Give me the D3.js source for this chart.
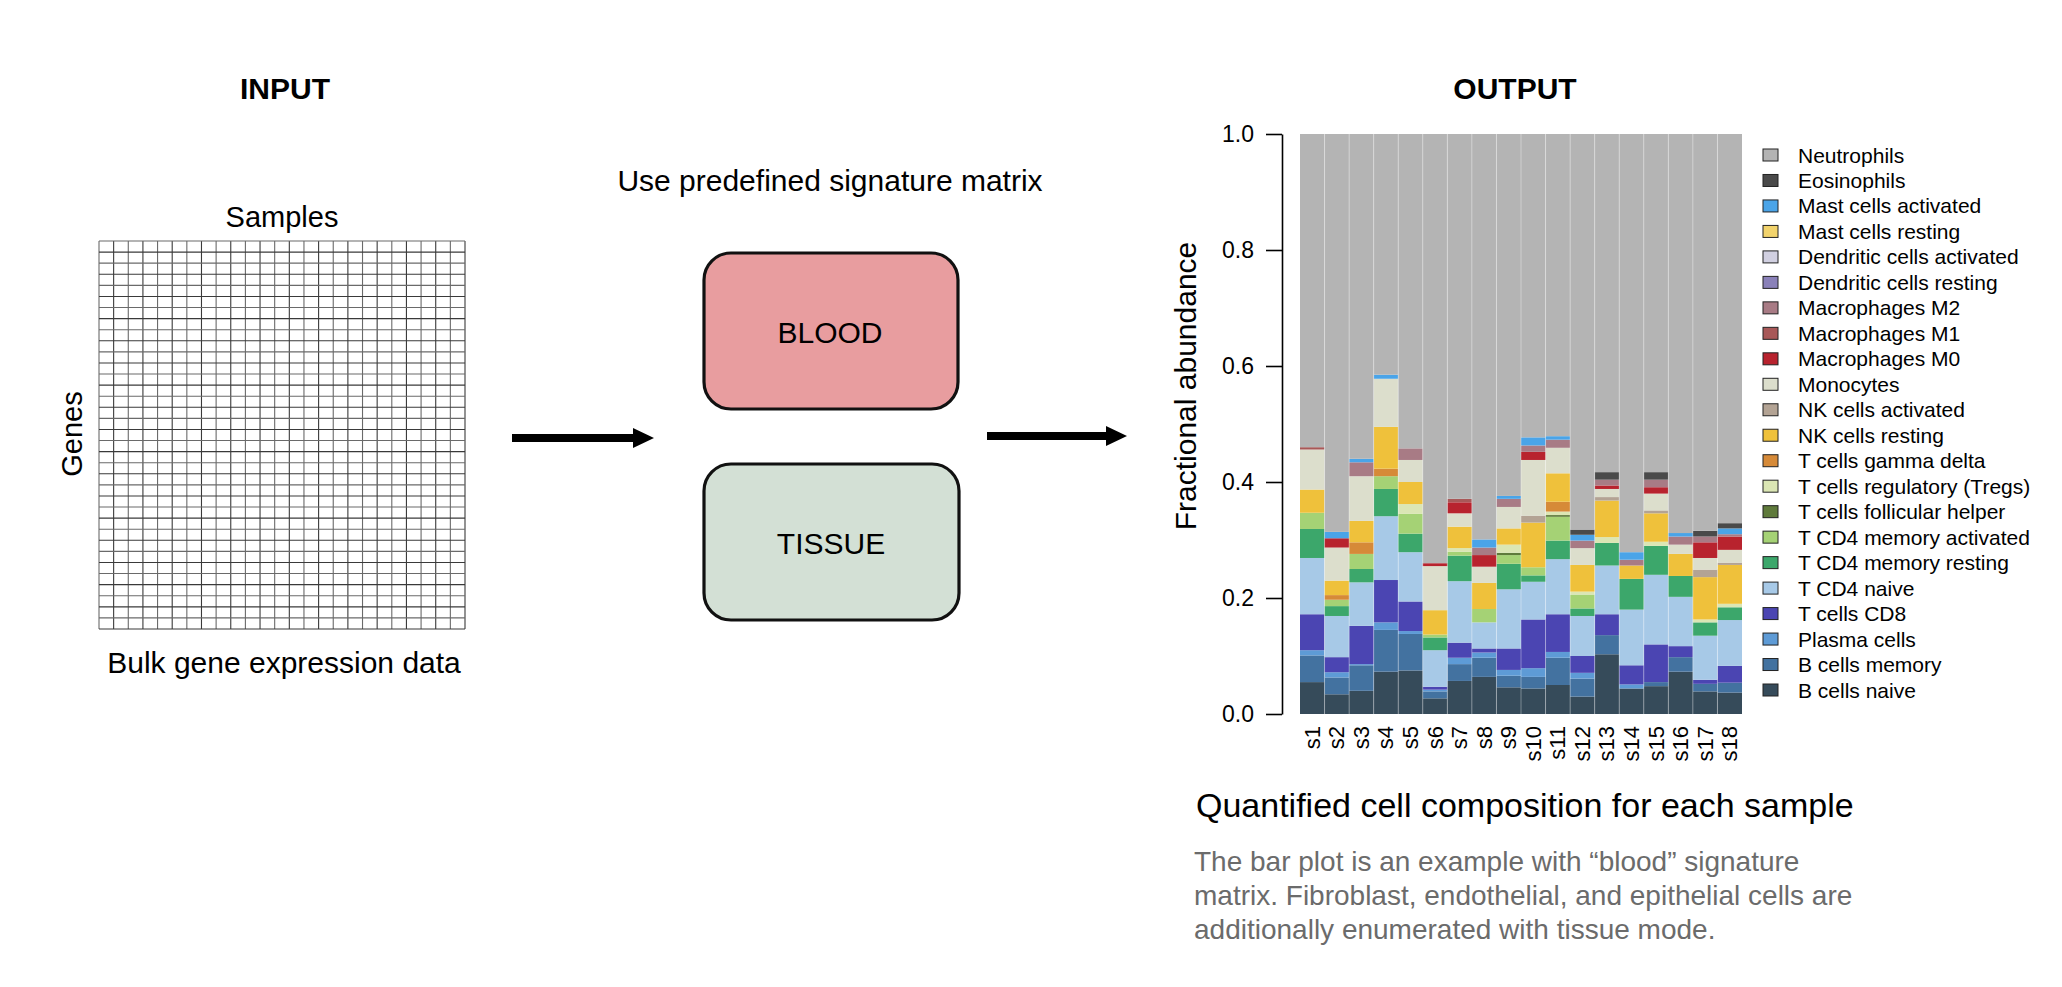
<!DOCTYPE html>
<html>
<head>
<meta charset="utf-8">
<script src="https://cdn.jsdelivr.net/npm/d3@7"></script>
<style>
  html, body { margin: 0; padding: 0; background: #ffffff; }
  svg { display: block; }
  text { font-family: "Liberation Sans", Arial, Helvetica, sans-serif; }
</style>
</head>
<body>
<svg id="fig" width="2062" height="987"></svg>
<script>
// ---------------- DATA ----------------
const samples = ["s1","s2","s3","s4","s5","s6","s7","s8","s9","s10","s11","s12","s13","s14","s15","s16","s17","s18"];

// stacking order: bottom -> top
const cellTypes = [
  "B cells naive","B cells memory","Plasma cells","T cells CD8","T CD4 naive",
  "T CD4 memory resting","T CD4 memory activated","T cells follicular helper",
  "T cells regulatory (Tregs)","T cells gamma delta","NK cells resting","NK cells activated",
  "Monocytes","Macrophages M0","Macrophages M1","Macrophages M2","Dendritic cells resting",
  "Dendritic cells activated","Mast cells resting","Mast cells activated","Eosinophils","Neutrophils"
];
const cellColors = [
  "#364b5a","#4372a0","#5e9bd6","#4b45b2","#a7c9e7",
  "#3ca76b","#a5d275","#5f7a3b",
  "#dbe6b4","#d68a38","#efc13b","#b3a394",
  "#dcdecc","#b8232e","#a85858","#a87b85","#8a81b9",
  "#d1d0e1","#f2d36c","#4aa4e8","#4a4a4a","#b4b4b4"
];

const bNaive      = [0.055,0.034,0.040,0.073,0.075,0.027,0.057,0.064,0.046,0.044,0.050,0.030,0.103,0.044,0.048,0.073,0.039,0.037];
const bMemory     = [0.046,0.029,0.044,0.072,0.063,0.012,0.029,0.033,0.020,0.020,0.047,0.031,0.033,0.000,0.007,0.025,0.013,0.017];
const plasma      = [0.009,0.009,0.002,0.013,0.005,0.003,0.011,0.009,0.010,0.015,0.010,0.010,0.000,0.007,0.000,0.000,0.000,0.000];
const tCD8        = [0.062,0.026,0.066,0.073,0.051,0.005,0.026,0.007,0.037,0.084,0.065,0.029,0.036,0.033,0.065,0.019,0.007,0.029];
const cd4Naive    = [0.097,0.071,0.075,0.110,0.085,0.063,0.106,0.045,0.102,0.065,0.095,0.069,0.084,0.096,0.120,0.085,0.076,0.079];
const cd4MemRest  = [0.050,0.017,0.023,0.047,0.032,0.022,0.044,0.000,0.044,0.011,0.032,0.013,0.039,0.053,0.050,0.036,0.023,0.022];
const cd4MemAct   = [0.028,0.011,0.026,0.022,0.034,0.005,0.007,0.023,0.015,0.014,0.041,0.024,0.000,0.000,0.000,0.000,0.000,0.000];
const tfh         = [0,0,0,0,0,0,0,0,0.004,0,0.003,0,0,0,0,0,0,0];
const tregs       = [0,0,0,0,0.017,0,0.006,0,0.014,0,0.006,0.005,0.010,0,0.007,0,0.005,0.006];
const gammaDelta  = [0,0.008,0.020,0.013,0,0,0,0,0,0,0.017,0,0,0,0,0,0,0];
const nkRest      = [0.040,0.025,0.037,0.072,0.038,0.042,0.037,0.045,0.028,0.077,0.049,0.046,0.063,0.023,0.049,0.038,0.073,0.067];
const nkAct       = [0,0,0,0,0,0,0,0,0,0.012,0,0,0.006,0,0.005,0,0.013,0.004];
const monocytes   = [0.069,0.057,0.077,0.083,0.038,0.076,0.023,0.028,0.037,0.096,0.044,0.029,0.014,0,0.029,0.016,0.020,0.022];
const macM0       = [0,0.016,0,0,0,0.005,0.019,0.020,0,0.014,0,0,0.006,0,0.011,0,0.027,0.023];
const macM1       = [0.004,0,0,0,0,0,0.006,0,0,0,0,0,0,0,0,0,0,0];
const macM2       = [0,0,0.024,0,0.020,0,0,0.013,0.014,0.011,0.014,0.013,0.010,0.010,0.013,0.014,0.010,0.004];
const dcRest      = [0,0,0,0,0,0,0,0,0,0,0,0,0,0,0,0,0,0];
const dcAct       = [0,0,0,0,0,0,0,0,0,0,0,0,0,0,0,0,0,0];
const mastRest    = [0,0,0,0,0,0,0,0,0,0,0,0,0,0,0,0,0,0];
const mastAct     = [0,0.011,0.006,0.007,0,0,0,0.014,0.005,0.014,0.006,0.010,0,0.013,0,0.006,0,0.010];
const eosinophils = [0,0,0,0,0,0,0,0,0,0,0,0.009,0.013,0,0.013,0,0.010,0.009];
const neutrophils = [0.540,0.686,0.560,0.415,0.542,0.740,0.629,0.699,0.624,0.523,0.521,0.682,0.583,0.721,0.583,0.688,0.684,0.671];

const seriesValues = [bNaive,bMemory,plasma,tCD8,cd4Naive,cd4MemRest,cd4MemAct,tfh,tregs,gammaDelta,
  nkRest,nkAct,monocytes,macM0,macM1,macM2,dcRest,dcAct,mastRest,mastAct,eosinophils,neutrophils];

const yTicks = [0,0.2,0.4,0.6,0.8,1.0];
const gridCols = 25, gridRows = 35;

// ---------------- DRAW ----------------
const svg = d3.select("#fig");
svg.append("rect").attr("width",2062).attr("height",987).attr("fill","#fff");
const FONT = "'Liberation Sans', Arial, Helvetica, sans-serif";

// ---- Titles
svg.append("text").attr("x",285).attr("y",99).attr("text-anchor","middle")
  .attr("font-size",30).attr("font-weight","bold").text("INPUT");
svg.append("text").attr("x",1515).attr("y",99).attr("text-anchor","middle")
  .attr("font-size",30).attr("font-weight","bold").text("OUTPUT");

// ---- Input grid
const gx = d3.scaleLinear([0,gridCols],[99,465]);
const gy = d3.scaleLinear([0,gridRows],[241,629]);
const grid = svg.append("g");
grid.selectAll("line.v").data(d3.range(gridCols+1)).join("line")
  .attr("x1",d=>gx(d)).attr("x2",d=>gx(d)).attr("y1",gy(0)).attr("y2",gy(gridRows))
  .attr("stroke",(d,i)=> i%2 ? "#3a3a3a" : "#6a6a6a").attr("stroke-width",1.1);
grid.selectAll("line.h").data(d3.range(gridRows+1)).join("line")
  .attr("y1",d=>gy(d)).attr("y2",d=>gy(d)).attr("x1",gx(0)).attr("x2",gx(gridCols))
  .attr("stroke",(d,i)=> i%2 ? "#3a3a3a" : "#6a6a6a").attr("stroke-width",1.1);

svg.append("text").attr("x",282).attr("y",227).attr("text-anchor","middle").attr("font-size",29).text("Samples");
svg.append("text").attr("transform","translate(82,434) rotate(-90)").attr("text-anchor","middle").attr("font-size",29).text("Genes");
svg.append("text").attr("x",284).attr("y",673).attr("text-anchor","middle").attr("font-size",30).text("Bulk gene expression data");

// ---- Arrows
function arrow(x0, x1, yc){
  const t = 4, hw = 10, hl = 21;
  svg.append("path")
    .attr("d", `M${x0},${yc-t} L${x1-hl},${yc-t} L${x1-hl},${yc-hw} L${x1},${yc} L${x1-hl},${yc+hw} L${x1-hl},${yc+t} L${x0},${yc+t} Z`)
    .attr("fill","#000");
}
arrow(512, 654, 438);
arrow(987, 1127, 436);

// ---- Signature boxes
svg.append("text").attr("x",830).attr("y",191).attr("text-anchor","middle").attr("font-size",30).text("Use predefined signature matrix");
svg.append("rect").attr("x",704).attr("y",253).attr("width",254).attr("height",156).attr("rx",27)
  .attr("fill","#e89d9f").attr("stroke","#111").attr("stroke-width",3.2);
svg.append("rect").attr("x",704).attr("y",464).attr("width",255).attr("height",156).attr("rx",27)
  .attr("fill","#d3e0d5").attr("stroke","#111").attr("stroke-width",3.2);
svg.append("text").attr("x",830).attr("y",332).attr("text-anchor","middle").attr("dominant-baseline","central").attr("font-size",30).text("BLOOD");
svg.append("text").attr("x",831).attr("y",543).attr("text-anchor","middle").attr("dominant-baseline","central").attr("font-size",30).text("TISSUE");

// ---- Stacked bar chart
const x = d3.scaleBand().domain(samples).range([1300,1742]).padding(0);
const y = d3.scaleLinear().domain([0,1]).range([714,134]);

const table = samples.map((s,i)=>{
  const row = {sample:s};
  cellTypes.forEach((c,k)=>{ row[c] = seriesValues[k][i]; });
  return row;
});
const stack = d3.stack().keys(cellTypes)(table);
const color = d3.scaleOrdinal().domain(cellTypes).range(cellColors);

const bars = svg.append("g");
bars.selectAll("g").data(stack).join("g").attr("fill",d=>color(d.key))
  .selectAll("rect").data(d=>d).join("rect")
  .attr("x",d=>x(d.data.sample)).attr("width",x.bandwidth())
  .attr("y",d=>y(d[1])).attr("height",d=>Math.max(0,y(d[0])-y(d[1])));
// column separators
bars.selectAll("line.sep").data(samples.slice(1)).join("line")
  .attr("x1",d=>x(d)).attr("x2",d=>x(d)).attr("y1",y(1)).attr("y2",y(0))
  .attr("stroke","rgba(255,255,255,0.35)").attr("stroke-width",1);

// y axis
const yAxis = d3.axisLeft(y).tickValues(yTicks).tickFormat(d3.format(".1f")).tickSize(16).tickSizeOuter(0).tickPadding(12);
const ga = svg.append("g").attr("transform","translate(1282,0)").call(yAxis);
ga.select(".domain").attr("stroke","#000").attr("stroke-width",1.6);
ga.selectAll(".tick line").attr("stroke","#000").attr("stroke-width",1.6);
ga.selectAll(".tick text").attr("font-size",23).attr("font-family",FONT).attr("fill","#000");

svg.append("text").attr("transform","translate(1196,386) rotate(-90)").attr("text-anchor","middle")
  .attr("font-size",30).text("Fractional abundance");

// x labels
svg.append("g").selectAll("text").data(samples).join("text")
  .attr("transform",d=>`translate(${x(d)+x.bandwidth()/2},726) rotate(-90)`)
  .attr("text-anchor","end").attr("dominant-baseline","central").attr("font-size",22).text(d=>d);

// legend
const legendItems = cellTypes.slice().reverse();
const ly = d3.scalePoint().domain(legendItems).range([155,690]);
const lg = svg.append("g");
lg.selectAll("rect").data(legendItems).join("rect")
  .attr("x",1763).attr("y",d=>ly(d)-6).attr("width",15).attr("height",12)
  .attr("fill",d=>color(d)).attr("stroke","#222").attr("stroke-width",1);
lg.selectAll("text").data(legendItems).join("text")
  .attr("x",1798).attr("y",d=>ly(d)).attr("dominant-baseline","central")
  .attr("font-size",21).text(d=>d);

// captions
svg.append("text").attr("x",1196).attr("y",817).attr("font-size",34).text("Quantified cell composition for each sample");
const notes = ["The bar plot is an example with \u201Cblood\u201D signature",
               "matrix. Fibroblast, endothelial, and epithelial cells are",
               "additionally enumerated with tissue mode."];
svg.append("g").selectAll("text").data(notes).join("text")
  .attr("x",1194).attr("y",(d,i)=>871 + i*34).attr("font-size",28).attr("fill","#6b6b6b").text(d=>d);
</script>
</body>
</html>
